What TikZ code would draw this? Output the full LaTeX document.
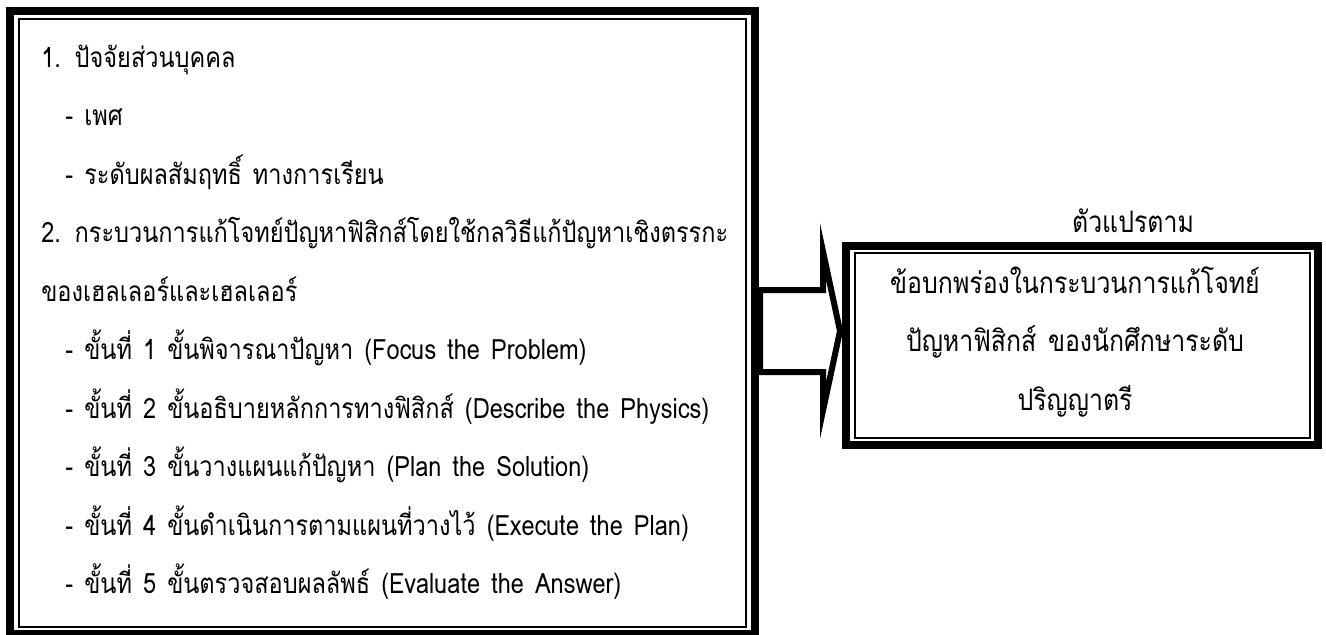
\documentclass[tikz,border=0pt]{standalone}
\usepackage{fontspec}
\newfontfamily\thaifont[Script=Thai,FakeStretch=0.84,WordSpace=1.4]{Loma}
\usetikzlibrary{calc,positioning}
\tikzset{
  heavyframe/.style={draw=black,line width=4pt,outer sep=0pt,inner sep=0pt},
  lightframe/.style={draw=black,line width=1pt,outer sep=0pt,inner sep=0pt},
  rowtext/.style   ={font=\thaifont\fontsize{14pt}{16pt}\selectfont,inner sep=0pt},
  bigtext/.style   ={font=\thaifont\fontsize{14.8pt}{17pt}\selectfont,inner sep=0pt},
  blockarrow/.style={draw=black,line width=3pt,line join=miter,miter limit=25}
}
\begin{document}
\begin{tikzpicture}[x=0.5pt,y=-0.5pt]
  \useasboundingbox (0,0) rectangle (1326,634);
  % independent variables
  \node[heavyframe,minimum width=372.5pt,minimum height=311.5pt] (causeout) at (382.5,322.5) {};
  \node[lightframe,minimum width=363.5pt,minimum height=304pt] (causein) at (382.5,323) {};
  \foreach \row [count=\i] in {%
      {1. ปัจจัยส่วนบุคคล},
      {\hspace*{12pt}- เพศ},
      {\hspace*{12pt}- ระดับผลสัมฤทธิ์ ทางการเรียน},
      {2. กระบวนการแก้โจทย์ปัญหาฟิสิกส์โดยใช้กลวิธีแก้ปัญหาเชิงตรรกะ},
      {ของเฮลเลอร์และเฮลเลอร์},
      {\hspace*{12pt}- ขั้นที่ 1 ขั้นพิจารณาปัญหา (Focus the Problem)},
      {\hspace*{12pt}- ขั้นที่ 2 ขั้นอธิบายหลักการทางฟิสิกส์ (Describe the Physics)},
      {\hspace*{12pt}- ขั้นที่ 3 ขั้นวางแผนแก้ปัญหา (Plan the Solution)},
      {\hspace*{12pt}- ขั้นที่ 4 ขั้นดำเนินการตามแผนที่วางไว้ (Execute the Plan)},
      {\hspace*{12pt}- ขั้นที่ 5 ขั้นตรวจสอบผลลัพธ์ (Evaluate the Answer)}}
    \node[rowtext,anchor=base west] (cause\i) at (41,{67+58.5*(\i-1)}) {\row};

  % dependent variable
  \node[heavyframe,minimum width=236pt,minimum height=99.5pt] (effectout) at (1082,345.5) {};
  \node[lightframe,minimum width=227.5pt,minimum height=92.5pt] (effectin) at (1082.5,345.5) {};
  \node[bigtext,anchor=base] (dvlabel) at (1133,232) {ตัวแปรตาม};
  \foreach \row [count=\i] in {%
      {ข้อบกพร่องในกระบวนการแก้โจทย์},
      {ปัญหาฟิสิกส์ ของนักศึกษาระดับ},
      {ปริญญาตรี}}
    \node[bigtext,anchor=base] (effect\i) at (1075,{293+58.5*(\i-1)}) {\row};

  % block arrow between the frames
  \coordinate (tail) at ([xshift=2.5pt]causeout.east |- 0,331);
  \coordinate (tip) at ([xshift=-3pt]effectout.west |- tail);
  \draw[blockarrow] ($(tail)+(0,-41)$) -- ($(tip)+(-17,-41)$) -- ($(tip)+(-17,-79.5)$)
    -- (tip) -- ($(tip)+(-17,79.5)$) -- ($(tip)+(-17,41)$) -- ($(tail)+(0,41)$) -- cycle;
\end{tikzpicture}
\end{document}
